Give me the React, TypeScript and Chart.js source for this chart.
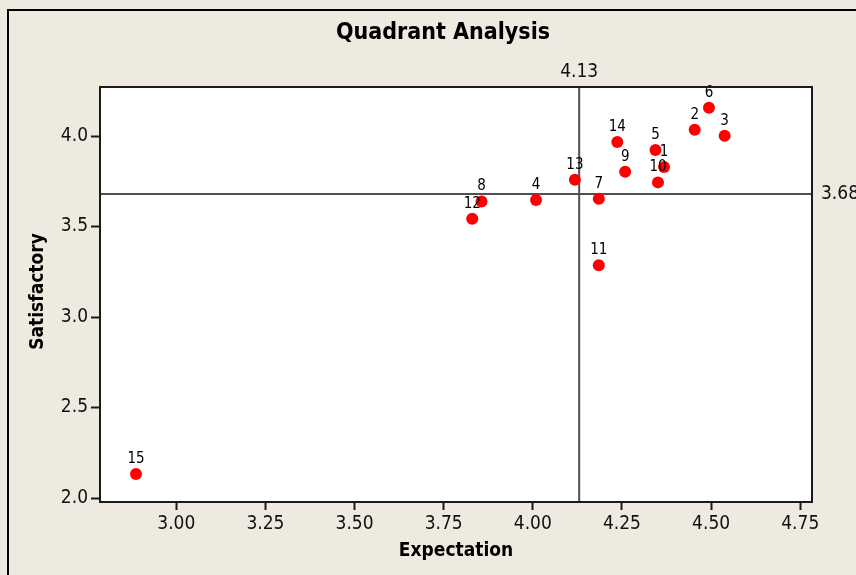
import React, { useEffect, useRef } from "react";
import { Chart, registerables } from "chart.js";

Chart.register(...registerables);

// ---- data ----
const pointIds = ["1", "2", "3", "4", "5", "6", "7", "8", "9", "10", "11", "12", "13", "14", "15"];
const expectation = [4.368, 4.454, 4.538, 4.009, 4.344, 4.494, 4.185, 3.856, 4.259, 4.351, 4.185, 3.83, 4.118, 4.237, 2.887];
const satisfaction = [3.829, 4.035, 4.002, 3.646, 3.923, 4.156, 3.654, 3.639, 3.803, 3.744, 3.286, 3.543, 3.759, 3.967, 2.133];
const xTicks = [3.0, 3.25, 3.5, 3.75, 4.0, 4.25, 4.5, 4.75];
const yTicks = [2.0, 2.5, 3.0, 3.5, 4.0];
const refX = 4.13;
const refY = 3.68;
const xRange = [2.786, 4.783];
const yRange = [1.978, 4.271];

const TITLE = "Quadrant Analysis";
const X_TITLE = "Expectation";
const Y_TITLE = "Satisfactory";

const FAMILY = '"DejaVu Sans Condensed", "DejaVu Sans", sans-serif';
const BG = "#EEEAE0";

const decorPlugin = {
  id: "decor",
  beforeDraw(chart: any) {
    const { ctx, chartArea: a, width, height } = chart;
    ctx.save();
    ctx.fillStyle = BG;
    ctx.fillRect(0, 0, width, height);
    ctx.fillStyle = "#FFFFFF";
    ctx.fillRect(a.left, a.top, a.right - a.left, a.bottom - a.top);
    // outer frame
    ctx.strokeStyle = "#000";
    ctx.lineWidth = 2;
    ctx.beginPath();
    ctx.moveTo(8, height);
    ctx.lineTo(8, 10);
    ctx.lineTo(width, 10);
    ctx.stroke();
    ctx.restore();
  },
  beforeDatasetsDraw(chart: any) {
    const { ctx, chartArea: a, scales } = chart;
    const px = scales.x.getPixelForValue(refX);
    const py = scales.y.getPixelForValue(refY);
    ctx.save();
    ctx.strokeStyle = "#505050";
    ctx.lineWidth = 2;
    ctx.beginPath();
    ctx.moveTo(px, a.top);
    ctx.lineTo(px, a.bottom);
    ctx.moveTo(a.left, py);
    ctx.lineTo(a.right, py);
    ctx.stroke();
    ctx.restore();
  },
  afterDatasetsDraw(chart: any) {
    const { ctx, chartArea: a, scales } = chart;
    ctx.save();
    // point labels
    const meta = chart.getDatasetMeta(0);
    ctx.fillStyle = "#000";
    ctx.font = `15px ${FAMILY}`;
    ctx.textAlign = "center";
    ctx.textBaseline = "middle";
    meta.data.forEach((el: any, i: number) => {
      ctx.fillText(pointIds[i], el.x, el.y - 15);
    });
    // plot border
    ctx.strokeStyle = "#1a1a1a";
    ctx.lineWidth = 2;
    ctx.strokeRect(a.left, a.top, a.right - a.left, a.bottom - a.top);
    // reference labels
    const px = scales.x.getPixelForValue(refX);
    const py = scales.y.getPixelForValue(refY);
    ctx.font = `19px ${FAMILY}`;
    ctx.fillStyle = "#111";
    ctx.textAlign = "center";
    ctx.textBaseline = "middle";
    ctx.fillText(refX.toFixed(2), px, a.top - 15);
    ctx.textAlign = "left";
    ctx.fillText(refY.toFixed(2), a.right + 9, py);
    // title
    ctx.fillStyle = "#000";
    ctx.font = `bold 23px ${FAMILY}`;
    ctx.textAlign = "center";
    ctx.textBaseline = "alphabetic";
    ctx.fillText(TITLE, 443, 39);
    // axis titles
    ctx.font = `bold 19px ${FAMILY}`;
    ctx.textBaseline = "middle";
    ctx.fillText(X_TITLE, (a.left + a.right) / 2, 551);
    ctx.translate(38, (a.top + a.bottom) / 2 - 3);
    ctx.rotate(-Math.PI / 2);
    ctx.fillText(Y_TITLE, 0, 0);
    ctx.restore();
  },
};

export default function App() {
  const canvasRef = useRef<HTMLCanvasElement | null>(null);

  useEffect(() => {
    const canvas = canvasRef.current;
    if (!canvas) return;
    const points = expectation.map((x, i) => ({ x, y: satisfaction[i] }));
    const chart = new Chart(canvas, {
      type: "scatter",
      data: {
        datasets: [
          {
            data: points,
            backgroundColor: "#FF0000",
            borderWidth: 0,
            pointRadius: 6,
            pointHoverRadius: 6,
          },
        ],
      },
      options: {
        animation: false,
        responsive: false,
        devicePixelRatio: 1,
        events: [],
        layout: { padding: { left: 0, top: 87, right: 44, bottom: 0 } },
        plugins: {
          legend: { display: false },
          title: { display: false },
          tooltip: { enabled: false },
        },
        scales: {
          x: {
            type: "linear",
            min: xRange[0],
            max: xRange[1],
            afterFit(scale: any) {
              scale.height = 73;
            },
            afterBuildTicks(scale: any) {
              scale.ticks = xTicks.map((v) => ({ value: v }));
            },
            ticks: {
              callback: (v: any) => Number(v).toFixed(2),
              font: { family: FAMILY, size: 19 },
              color: "#111",
              padding: 3,
              maxRotation: 0,
              autoSkip: false,
            },
            grid: {
              drawOnChartArea: false,
              drawTicks: true,
              tickLength: 8,
              tickWidth: 2,
              tickColor: "#1a1a1a",
            },
            border: { display: false },
          },
          y: {
            type: "linear",
            min: yRange[0],
            max: yRange[1],
            afterFit(scale: any) {
              scale.width = 100;
            },
            afterBuildTicks(scale: any) {
              scale.ticks = yTicks.map((v) => ({ value: v }));
            },
            ticks: {
              callback: (v: any) => Number(v).toFixed(1),
              font: { family: FAMILY, size: 19 },
              color: "#111",
              padding: 3,
              autoSkip: false,
            },
            grid: {
              drawOnChartArea: false,
              drawTicks: true,
              tickLength: 9,
              tickWidth: 2,
              tickColor: "#1a1a1a",
            },
            border: { display: false },
          },
        },
      },
      plugins: [decorPlugin],
    });
    return () => chart.destroy();
  }, []);

  return (
    <div style={{ position: "absolute", left: 0, top: 0, width: 856, height: 575 }}>
      <canvas ref={canvasRef} width={856} height={575} style={{ display: "block" }} />
    </div>
  );
}
